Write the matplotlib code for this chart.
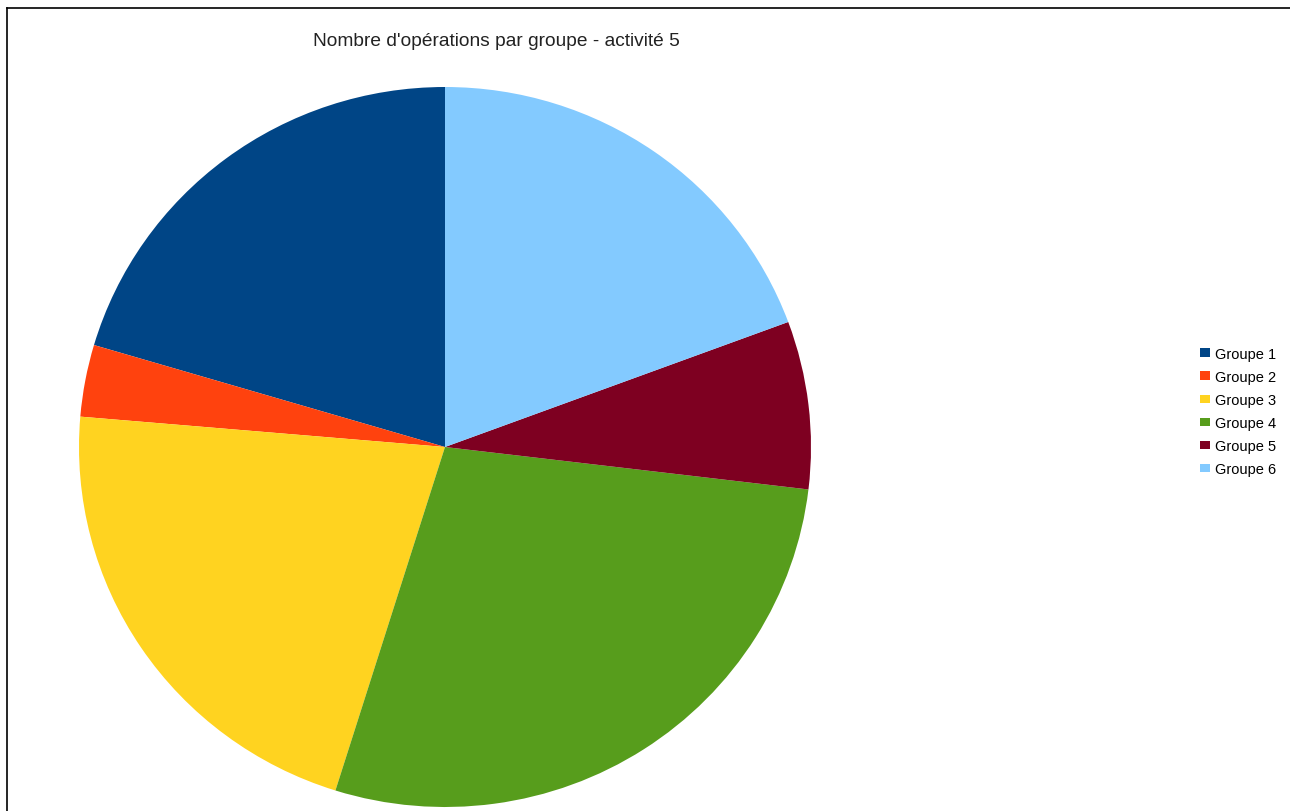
import matplotlib
matplotlib.use("Agg")
import matplotlib.pyplot as plt
from matplotlib.lines import Line2D
from matplotlib.patches import Patch

plt.rcParams['font.family'] = ['Liberation Sans', 'DejaVu Sans']

title = "Nombre d'opérations par groupe - activité 5"
categories = ["Groupe 1", "Groupe 2", "Groupe 3", "Groupe 4", "Groupe 5", "Groupe 6"]
values = [19, 3, 20, 26, 7, 18]
colors = ["#004586", "#ff420e", "#ffd320", "#579d1c", "#7e0021", "#83caff"]

W, H = 1290, 812
fig = plt.figure(figsize=(W / 100, H / 100), dpi=100)
fig.patch.set_facecolor("white")

# frame lines (top and left)
fig.add_artist(Line2D([7 / W, 1.0], [1 - 9 / H, 1 - 9 / H], color="black", lw=1.2, transform=fig.transFigure))
fig.add_artist(Line2D([7 / W, 7 / W], [0, 1 - 9 / H], color="black", lw=1.2, transform=fig.transFigure))

cx, cy, rx, ry = 445, 448, 366, 360
ax = fig.add_axes([(cx - rx) / W, (H - cy - ry) / H, 2 * rx / W, 2 * ry / H])
wedges, _ = ax.pie(values, colors=colors, startangle=90, counterclock=True,
                   radius=1.0, wedgeprops=dict(linewidth=0))
ax.set_aspect('auto')
ax.set_xlim(-1, 1)
ax.set_ylim(-1, 1)
ax.axis('off')

fig.text(496 / W, 1 - 42 / H, title, ha="center", va="center", fontsize=13.8, color="#222222")

handles = [Patch(facecolor=c, edgecolor="none") for c in colors]
fig.legend(handles, categories, loc="upper left", bbox_to_anchor=(1200 / W, 1 - 348 / H),
           frameon=False, fontsize=10.5, handlelength=0.7, handleheight=0.55,
           handletextpad=0.3, labelspacing=0.62, borderpad=0, borderaxespad=0)

fig.savefig("out.png", dpi=100, facecolor="white")
